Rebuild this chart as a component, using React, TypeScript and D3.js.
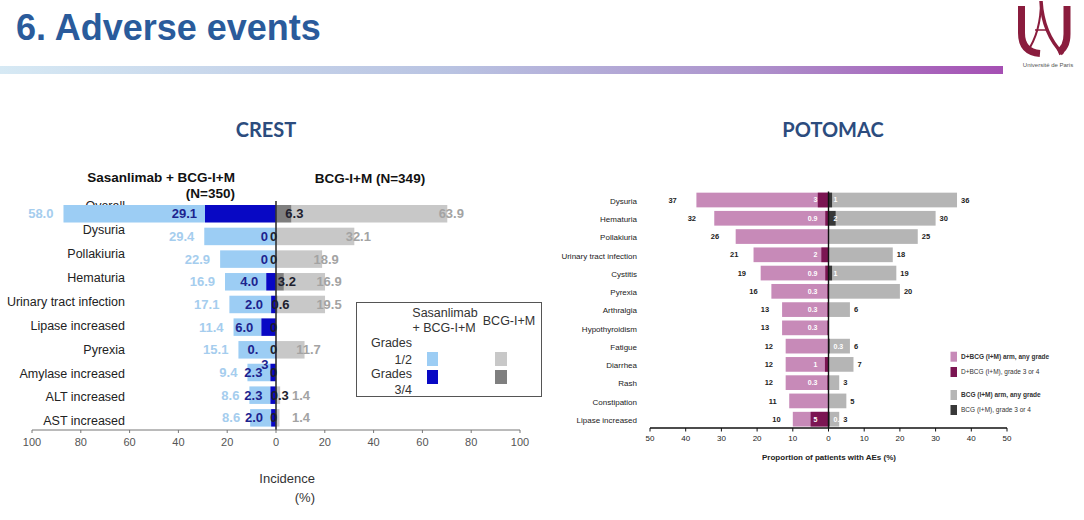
import React from "react";
import * as d3 from "d3";

// ---------- CREST data ----------
const crestCategories = [
  "Overall",
  "Dysuria",
  "Pollakiuria",
  "Hematuria",
  "Urinary tract infection",
  "Lipase increased",
  "Pyrexia",
  "Amylase increased",
  "ALT increased",
  "AST increased",
];
const crestSasG12 = [58.0, 29.4, 22.9, 16.9, 17.1, 11.4, 15.1, 9.4, 8.6, 8.6];
const crestSasG34 = [29.1, 0, 0, 4.0, 2.0, 6.0, 0.3, 2.3, 2.3, 2.0];
const crestSasG34Labels = ["29.1", "0", "0", "4.0", "2.0", "6.0", "0.|3", "2.3", "2.3", "2.0"];
const crestBcgG12: (number | null)[] = [63.9, 32.1, 18.9, 16.9, 19.5, null, 11.7, null, 1.4, 1.4];
const crestBcgG34 = [6.3, 0, 0, 3.2, 0.6, 0, 0, 0, 0.3, 0];
const crestTicks = [-100, -80, -60, -40, -20, 0, 20, 40, 60, 80, 100];

// ---------- POTOMAC data ----------
const potCategories = [
  "Dysuria",
  "Hematuria",
  "Pollakiuria",
  "Urinary tract infection",
  "Cystitis",
  "Pyrexia",
  "Arthralgia",
  "Hypothyroidism",
  "Fatigue",
  "Diarrhea",
  "Rash",
  "Constipation",
  "Lipase increased",
];
const potDAny = [37, 32, 26, 21, 19, 16, 13, 13, 12, 12, 12, 11, 10];
const potDG34: (number | null)[] = [3, 0.9, null, 2, 0.9, 0.3, 0.3, 0.3, null, 1, 0.3, null, 5];
const potBAny: (number | null)[] = [36, 30, 25, 18, 19, 20, 6, null, 6, 7, 3, 5, 3];
const potBG34: (number | null)[] = [1, 2, null, null, 1, null, null, null, 0.3, null, null, null, 0.3];
const potTicks = [-50, -40, -30, -20, -10, 0, 10, 20, 30, 40, 50];
const potLegend = [
  "D+BCG (I+M) arm, any grade",
  "D+BCG (I+M), grade 3 or 4",
  "BCG (I+M) arm, any grade",
  "BCG (I+M), grade 3 or 4",
];

const ARIAL = "'Liberation Sans', Arial, sans-serif";
const CAL = "Lato, 'Open Sans', sans-serif";

const C = {
  lightBlue: "#9ccdf4",
  darkBlue: "#0808c4",
  lightBlueText: "#a5cdee",
  darkBlueText: "#1c238e",
  lightGrey: "#c8c8c8",
  darkGrey: "#7f7f7f",
  greyText: "#a3a3a3",
  pink: "#c78ab8",
  plum: "#7b1552",
  bcgGrey: "#b5b5b5",
  bcgDark: "#383838",
};

const fmt = (v: number) => (v === 0 ? "0" : v.toFixed(1));
const fmtP = (v: number) => String(v);

function Crest() {
  const x = d3.scaleLinear().domain([-100, 100]).range([32, 520]);
  const y = d3
    .scaleBand<string>()
    .domain(crestCategories)
    .range([201.6, 430])
    .paddingInner(0.228)
    .paddingOuter(0.15);
  const yl = d3.scalePoint<string>().domain(crestCategories).range([206, 421]);
  const bw = y.bandwidth();
  const x0 = x(0);

  return (
    <g fontFamily={ARIAL}>
      <text x={266} y={137} textAnchor="middle" fontFamily={CAL} fontWeight={700} fontSize={20} fill="#2c4c7e">
        CREST
      </text>
      <text x={235} y={182} textAnchor="end" fontWeight={700} fontSize={13.5} fill="#111">
        Sasanlimab + BCG-I+M
      </text>
      <text x={235} y={198} textAnchor="end" fontWeight={700} fontSize={13.5} fill="#111">
        (N=350)
      </text>
      <text x={370} y={183} textAnchor="middle" fontWeight={700} fontSize={13.5} fill="#111">
        BCG-I+M (N=349)
      </text>

      {/* category labels */}
      {crestCategories.map((c) => (
        <text key={c} x={125} y={yl(c)} dy="0.35em" textAnchor="end" fontSize={12.5} fill="#222">
          {c}
        </text>
      ))}

      {/* bars */}
      {crestCategories.map((c, i) => {
        const g34 = crestSasG34[i];
        const g12 = crestSasG12[i];
        const b34 = crestBcgG34[i];
        const b12 = crestBcgG12[i];
        const yy = y(c)!;
        return (
          <g key={c}>
            <rect x={x(-(g12 + g34))} y={yy} width={x(-g34) - x(-(g12 + g34))} height={bw} fill={C.lightBlue} />
            <rect x={x(-g34)} y={yy} width={x0 - x(-g34)} height={bw} fill={C.darkBlue} />
            {b12 !== null && (
              <rect x={x(b34)} y={yy} width={x(b34 + b12) - x(b34)} height={bw} fill={C.lightGrey} />
            )}
            <rect x={x0} y={yy} width={x(b34) - x0} height={bw} fill={C.darkGrey} />
          </g>
        );
      })}

      <line x1={x0} x2={x0} y1={201} y2={430} stroke="#333" strokeWidth={1.6} />

      {/* value labels */}
      {crestCategories.map((c, i) => {
        const g34 = crestSasG34[i];
        const g12 = crestSasG12[i];
        const b34 = crestBcgG34[i];
        const b12 = crestBcgG12[i];
        const cy = y(c)! + bw / 2;
        const parts = crestSasG34Labels[i].split("|");
        return (
          <g key={c} fontWeight={700} fontSize={13}>
            <text x={x(-(g12 + g34)) - 10} y={cy} dy="0.35em" textAnchor="end" fill={C.lightBlueText}>
              {fmt(g12)}
            </text>
            {parts.length === 1 ? (
              <text x={x(-g34) - 8} y={cy} dy="0.35em" textAnchor="end" fill={C.darkBlueText}>
                {parts[0]}
              </text>
            ) : (
              <>
                <text x={x(-g34) - 17} y={cy} dy="0.35em" textAnchor="end" fill={C.darkBlueText}>
                  {parts[0]}
                </text>
                <text x={x(-g34) - 14} y={cy + 15} dy="0.35em" textAnchor="start" fill={C.darkBlueText}>
                  {parts[1]}
                </text>
              </>
            )}
            <text x={x(b34) - 6} y={cy} dy="0.35em" textAnchor="start" fill="#1e1e2e">
              {fmt(b34)}
            </text>
            {b12 !== null && (
              <text
                x={Math.max(x(b34 + b12) + 4, x0 + 25)}
                y={cy}
                dy="0.35em"
                textAnchor="middle"
                fill={C.greyText}
              >
                {fmt(b12)}
              </text>
            )}
          </g>
        );
      })}

      {/* axis */}
      <line x1={x(-100)} x2={x(100)} y1={430} y2={430} stroke="#777" strokeWidth={1} />
      {crestTicks.map((t) => (
        <g key={t}>
          <line x1={x(t)} x2={x(t)} y1={430} y2={433} stroke="#777" />
          <text x={x(t)} y={442} dy="0.35em" textAnchor="middle" fontSize={11} fill="#555">
            {Math.abs(t)}
          </text>
        </g>
      ))}
      <text x={315} y={478} dy="0.35em" textAnchor="end" fontSize={13} fill="#333">
        Incidence
      </text>
      <text x={315} y={497} dy="0.35em" textAnchor="end" fontSize={13} fill="#333">
        (%)
      </text>

      {/* legend */}
      <rect x={356.5} y={302.5} width={185} height={94} fill="#fff" stroke="#555" strokeWidth={1} />
      <g fontSize={12.5} fill="#333">
        <text x={445} y={313} dy="0.35em" textAnchor="middle">Sasanlimab</text>
        <text x={444} y={328} dy="0.35em" textAnchor="middle">+ BCG-I+M</text>
        <text x={509} y={321} dy="0.35em" textAnchor="middle">BCG-I+M</text>
        <text x={412} y={343} dy="0.35em" textAnchor="end">Grades</text>
        <text x={412} y={360} dy="0.35em" textAnchor="end">1/2</text>
        <text x={412} y={374} dy="0.35em" textAnchor="end">Grades</text>
        <text x={412} y={390} dy="0.35em" textAnchor="end">3/4</text>
      </g>
      <rect x={427} y={352} width={11} height={14} fill={C.lightBlue} />
      <rect x={427} y={370} width={11} height={14} fill={C.darkBlue} />
      <rect x={495} y={352} width={12} height={14} fill={C.lightGrey} />
      <rect x={495} y={370} width={12} height={14} fill={C.darkGrey} />
    </g>
  );
}

function Potomac() {
  const x = d3.scaleLinear().domain([-50, 50]).range([650, 1007]);
  const labelX = d3.scaleLinear().domain([0, 50]).range([815, 622.5]);
  const y = d3
    .scaleBand<string>()
    .domain(potCategories)
    .range([191.2, 428])
    .paddingInner(0.195)
    .paddingOuter(0.08);
  const bw = y.bandwidth();
  const x0 = x(0);
  const legendColors = [C.pink, C.plum, C.bcgGrey, C.bcgDark];
  const legendY = [351.7, 367, 390, 405];

  return (
    <g fontFamily={ARIAL}>
      <text x={833} y={137} textAnchor="middle" fontFamily={CAL} fontWeight={700} fontSize={20} fill="#2c4c7e">
        POTOMAC
      </text>
      {potCategories.map((c) => (
        <text key={c} x={637} y={y(c)! + bw / 2 + 1} dy="0.35em" textAnchor="end" fontSize={8} fill="#222">
          {c}
        </text>
      ))}
      {potCategories.map((c, i) => {
        const yy = y(c)!;
        const da = potDAny[i];
        const dg = potDG34[i];
        const ba = potBAny[i];
        const bg = potBG34[i];
        return (
          <g key={c}>
            <rect x={x(-da)} y={yy} width={x0 - x(-da)} height={bw} fill={C.pink} />
            {dg !== null && <rect x={x(-dg)} y={yy} width={x0 - x(-dg)} height={bw} fill={C.plum} />}
            {ba !== null && <rect x={x0} y={yy} width={x(ba) - x0} height={bw} fill={C.bcgGrey} />}
            {bg !== null && <rect x={x0} y={yy} width={x(bg) - x0} height={bw} fill={C.bcgDark} />}
          </g>
        );
      })}
      <line x1={x0} x2={x0} y1={191.5} y2={428} stroke="#111" strokeWidth={1.4} />
      {potCategories.map((c, i) => {
        const cy = y(c)! + bw / 2;
        const da = potDAny[i];
        const dg = potDG34[i];
        const ba = potBAny[i];
        const bg = potBG34[i];
        return (
          <g key={c} fontWeight={700} fontSize={7.5}>
            <text x={labelX(da)} y={cy} dy="0.35em" textAnchor="middle" fill="#222">
              {fmtP(da)}
            </text>
            {dg !== null && (
              <text x={x0 - 11} y={cy} dy="0.35em" textAnchor="end" fill="#fff" fontSize={7}>
                {fmtP(dg)}
              </text>
            )}
            {ba !== null && (
              <text x={x(ba) + 4} y={cy} dy="0.35em" textAnchor="start" fill="#222">
                {fmtP(ba)}
              </text>
            )}
            {bg !== null && (
              <text x={x0 + 5} y={cy} dy="0.35em" textAnchor="start" fill="#fff" fontSize={7}>
                {fmtP(bg)}
              </text>
            )}
          </g>
        );
      })}
      <line x1={x(-50)} x2={x(50)} y1={428} y2={428} stroke="#111" strokeWidth={1.4} />
      {potTicks.map((t) => (
        <g key={t}>
          <line x1={x(t)} x2={x(t)} y1={428} y2={431.5} stroke="#111" strokeWidth={1} />
          <text x={x(t)} y={438.5} dy="0.35em" textAnchor="middle" fontSize={8} fill="#222">
            {Math.abs(t)}
          </text>
        </g>
      ))}
      <text x={829} y={457} dy="0.35em" textAnchor="middle" fontSize={8} fontWeight={700} fill="#222">
        Proportion of patients with AEs (%)
      </text>
      {potLegend.map((l, i) => (
        <g key={l}>
          <rect x={950.5} y={legendY[i]} width={6.5} height={10} fill={legendColors[i]} />
          <text
            x={961}
            y={legendY[i] + 5}
            dy="0.35em"
            fontSize={6.5}
            fontWeight={i % 2 === 0 ? 700 : 400}
            fill="#333"
          >
            {l}
          </text>
        </g>
      ))}
    </g>
  );
}

function Logo() {
  const col = "#8a1c3d";
  return (
    <g>
      <path d="M1021.5,6 V33 Q1021.5,52 1040,53.5" fill="none" stroke={col} strokeWidth={7} />
      <path d="M1067,6 V34 Q1067,48 1058,52" fill="none" stroke={col} strokeWidth={7} />
      <path d="M1041,1 Q1041,32 1027,52" fill="none" stroke={col} strokeWidth={2} />
      <path d="M1041,1 Q1043,34 1063,54" fill="none" stroke={col} strokeWidth={3.5} />
      <path d="M1035,30 H1047" fill="none" stroke={col} strokeWidth={1.5} />
      <text x={1048} y={65} dy="0.35em" textAnchor="middle" fontFamily={ARIAL} fontSize={6} fill="#555">
        Université de Paris
      </text>
    </g>
  );
}

export default function App() {
  return (
    <svg
      width={1084}
      height={520}
      viewBox="0 0 1084 520"
      style={{ position: "absolute", left: 0, top: 0, display: "block", background: "#fff" }}
    >
      <defs>
        <linearGradient id="hdrGrad" x1="0" x2="1" y1="0" y2="0">
          <stop offset="0%" stopColor="#d6e9f4" />
          <stop offset="45%" stopColor="#b9c3e2" />
          <stop offset="75%" stopColor="#ad92cc" />
          <stop offset="100%" stopColor="#a54fb3" />
        </linearGradient>
      </defs>
      <rect x={0} y={0} width={1084} height={520} fill="#fff" />
      <text x={16} y={40} fontFamily={ARIAL} fontWeight={700} fontSize={36} fill="#2a5b9b">
        6. Adverse events
      </text>
      <rect x={0} y={66} width={1003} height={8} fill="url(#hdrGrad)" />
      <Logo />
      <Crest />
      <Potomac />
    </svg>
  );
}
